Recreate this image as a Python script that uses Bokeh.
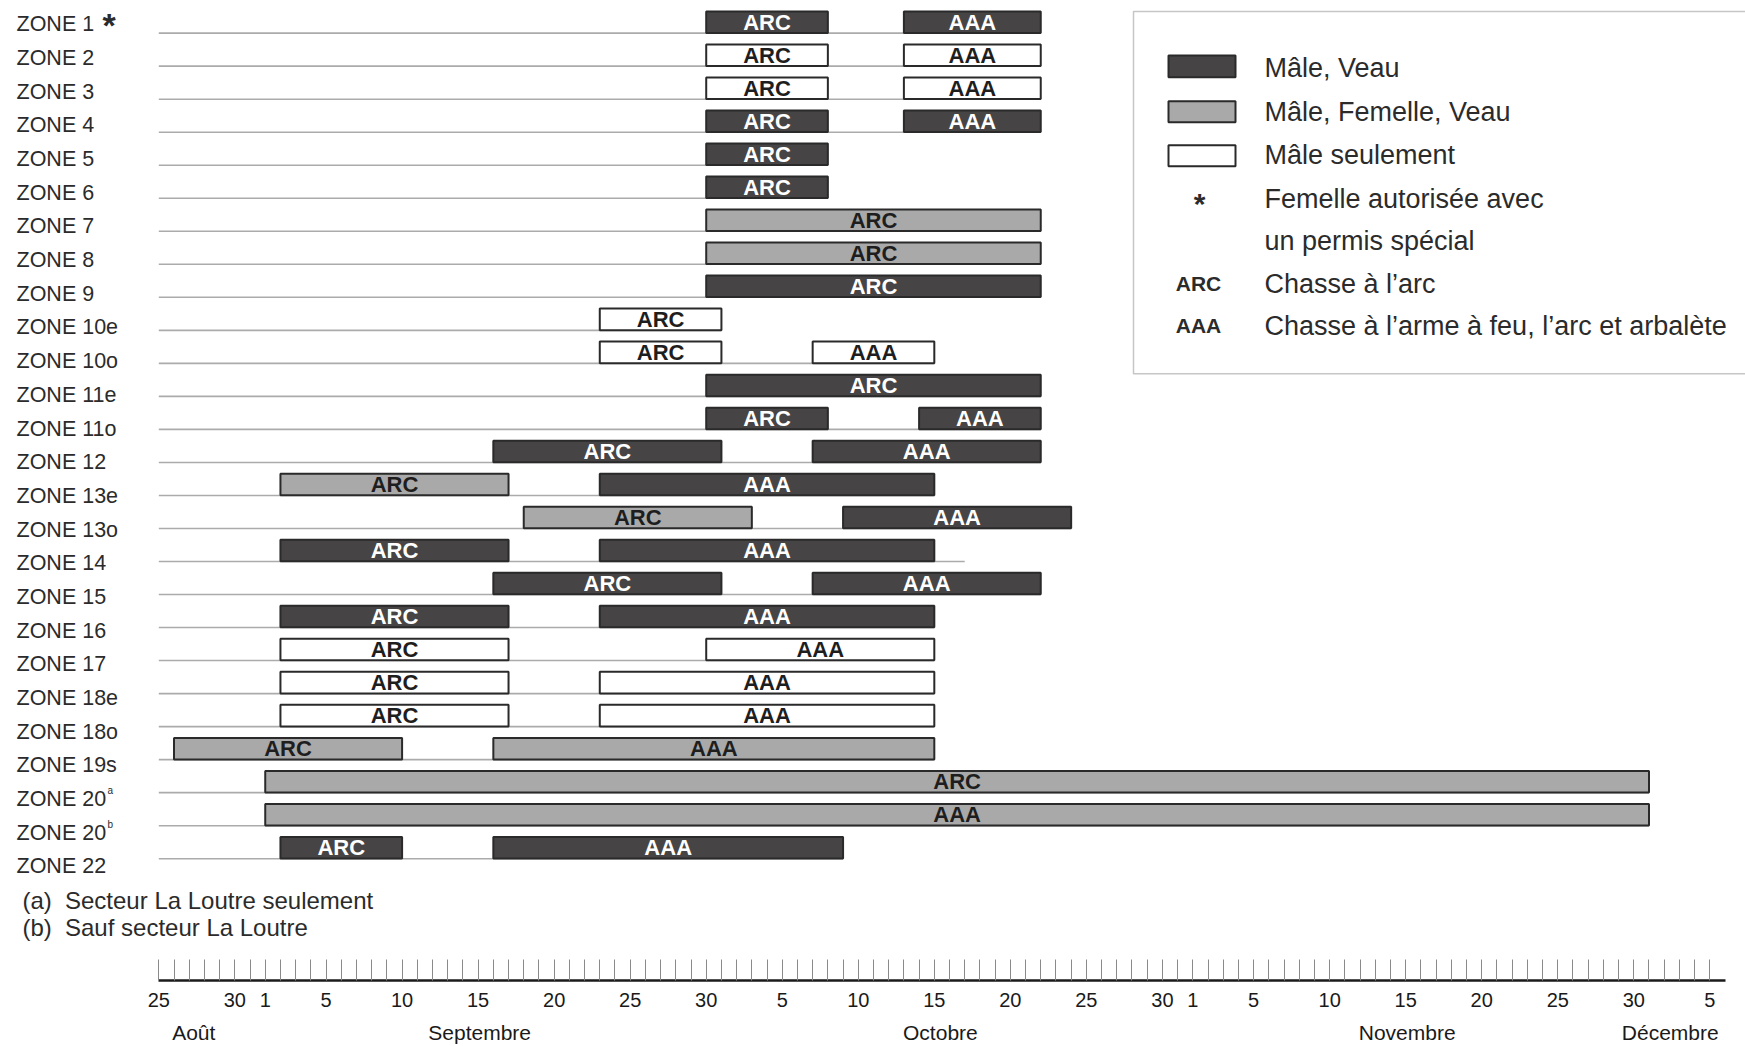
import datetime as dt
from bokeh.plotting import figure
from bokeh.models import Range1d, LinearAxis, FixedTicker, ColumnDataSource
from bokeh.core.properties import value
from bokeh.embed import file_html
from bokeh.resources import INLINE

# ---------------- data ----------------
YEAR = 2009
AXIS_ORIGIN = "08-25"

zone_keys = ["1", "2", "3", "4", "5", "6", "7", "8", "9", "10e", "10o", "11e", "11o", "12",
             "13e", "13o", "14", "15", "16", "17", "18e", "18o", "19s", "20a", "20b", "22"]
zone_labels = ["ZONE 1", "ZONE 2", "ZONE 3", "ZONE 4", "ZONE 5", "ZONE 6", "ZONE 7", "ZONE 8",
               "ZONE 9", "ZONE 10e", "ZONE 10o", "ZONE 11e", "ZONE 11o", "ZONE 12", "ZONE 13e",
               "ZONE 13o", "ZONE 14", "ZONE 15", "ZONE 16", "ZONE 17", "ZONE 18e", "ZONE 18o",
               "ZONE 19s", "ZONE 20", "ZONE 20", "ZONE 22"]

bar_zone = ["1", "1", "2", "2", "3", "3", "4", "4", "5", "6", "7", "8", "9",
            "10e", "10o", "10o", "11e", "11o", "11o", "12", "12",
            "13e", "13e", "13o", "13o", "14", "14", "15", "15", "16", "16",
            "17", "17", "18e", "18e", "18o", "18o", "19s", "19s", "20a", "20b", "22", "22"]
bar_hunt = ["ARC", "AAA", "ARC", "AAA", "ARC", "AAA", "ARC", "AAA", "ARC", "ARC", "ARC", "ARC", "ARC",
            "ARC", "ARC", "AAA", "ARC", "ARC", "AAA", "ARC", "AAA",
            "ARC", "AAA", "ARC", "AAA", "ARC", "AAA", "ARC", "AAA", "ARC", "AAA",
            "ARC", "AAA", "ARC", "AAA", "ARC", "AAA", "ARC", "AAA", "ARC", "AAA", "ARC", "AAA"]
bar_start = ["09-30", "10-13", "09-30", "10-13", "09-30", "10-13", "09-30", "10-13", "09-30", "09-30",
             "09-30", "09-30", "09-30",
             "09-23", "09-23", "10-07", "09-30", "09-30", "10-14", "09-16", "10-07",
             "09-02", "09-23", "09-18", "10-09", "09-02", "09-23", "09-16", "10-07", "09-02", "09-23",
             "09-02", "09-30", "09-02", "09-23", "09-02", "09-23", "08-26", "09-16",
             "09-01", "09-01", "09-02", "09-16"]
bar_end = ["10-08", "10-22", "10-08", "10-22", "10-08", "10-22", "10-08", "10-22", "10-08", "10-08",
           "10-22", "10-22", "10-22",
           "10-01", "10-01", "10-15", "10-22", "10-08", "10-22", "10-01", "10-22",
           "09-17", "10-15", "10-03", "10-24", "09-17", "10-15", "10-01", "10-22", "09-17", "10-15",
           "09-17", "10-15", "09-17", "10-15", "09-17", "10-15", "09-10", "10-15",
           "12-01", "12-01", "09-10", "10-09"]
bar_group = ["MV", "MV", "M", "M", "M", "M", "MV", "MV", "MV", "MV", "MFV", "MFV", "MV",
             "M", "M", "M", "MV", "MV", "MV", "MV", "MV",
             "MFV", "MV", "MFV", "MV", "MV", "MV", "MV", "MV", "MV", "MV",
             "M", "M", "M", "M", "M", "M", "MFV", "MFV", "MFV", "MFV", "MV", "MV"]

# row guide lines that run past the last season
line_end_override = {"14": "10-17"}

group_keys = ["MV", "MFV", "M"]
group_names = ["Mâle, Veau", "Mâle, Femelle, Veau", "Mâle seulement"]
group_fill = {"MV": "#474445", "MFV": "#a9a9a9", "M": "#ffffff"}
group_text = {"MV": "#ffffff", "MFV": "#1e1e1e", "M": "#1e1e1e"}

tick_dates = ["08-25", "08-30", "09-01", "09-05", "09-10", "09-15", "09-20", "09-25", "09-30",
              "10-05", "10-10", "10-15", "10-20", "10-25", "10-30", "11-01", "11-05", "11-10",
              "11-15", "11-20", "11-25", "11-30", "12-05"]
tick_text = ["25", "30", "1", "5", "10", "15", "20", "25", "30", "5", "10", "15", "20", "25", "30",
             "1", "5", "10", "15", "20", "25", "30", "5"]
months = ["Août", "Septembre", "Octobre", "Novembre", "Décembre"]
month_label_day = [2.3, 21.1, 51.4, 82.1, 99.4]

footnotes_key = ["(a)", "(b)"]
footnotes_text = ["Secteur La Loutre seulement", "Sauf secteur La Loutre"]

legend_marks = ["*", "ARC", "AAA"]
legend_texts = ["Mâle, Veau", "Mâle, Femelle, Veau", "Mâle seulement", "Femelle autorisée avec",
                "un permis spécial", "Chasse à l’arc", "Chasse à l’arme à feu, l’arc et arbalète"]


def day(md):
    o = dt.date(YEAR, int(AXIS_ORIGIN[:2]), int(AXIS_ORIGIN[3:]))
    return (dt.date(YEAR, int(md[:2]), int(md[3:])) - o).days


# ---------------- layout constants (screen px of the page) ----------------
FIG_W, FIG_H = 1745, 1046
PAD = 0
BOTTOM = 64
X0, PX = 158.3, 15.206        # page x of day 0, px per day
L0, DY = 32.7, 33.09          # page y of row-0 guide line, px per row
C0, DC = 24.0, 33.74          # page y of row-0 label centre, px per label row

ft, fb = PAD, PAD + FIG_H - BOTTOM
fl, fr = PAD, PAD + FIG_W

p = figure(width=FIG_W, height=FIG_H, output_backend="svg", toolbar_location=None,
           x_range=Range1d((fl - X0) / PX, (fr - X0) / PX),
           y_range=Range1d((fb - L0) / DY, (ft - L0) / DY),
           x_axis_type=None, y_axis_type=None,
           min_border=0, min_border_left=0, min_border_right=0, min_border_top=0,
           min_border_bottom=BOTTOM, outline_line_color=None,
           background_fill_color="white", border_fill_color="white")
p.extra_x_ranges = {"px": Range1d(fl, fr)}
p.extra_y_ranges = {"px": Range1d(fb, ft), "lab": Range1d((fb - C0) / DC, (ft - C0) / DC)}

FONT = value("Liberation Sans")
row_of = {k: i for i, k in enumerate(zone_keys)}

# guide lines
ends = {}
for z, e in zip(bar_zone, bar_end):
    ends[z] = max(ends.get(z, 0), day(e))
for z, e in line_end_override.items():
    ends[z] = day(e)
p.segment(x0=[0] * len(zone_keys), y0=list(range(len(zone_keys))),
          x1=[ends[z] for z in zone_keys], y1=list(range(len(zone_keys))),
          line_color="#ababab", line_width=1.6)

# bars
rows = [row_of[z] for z in bar_zone]
src = ColumnDataSource(dict(
    left=[day(s) for s in bar_start], right=[day(e) for e in bar_end],
    top=[r - 21.8 / DY for r in rows], bottom=[r - 0.2 / DY for r in rows],
    ymid=[r - 11.0 / DY for r in rows],
    xmid=[(day(s) + day(e)) / 2 for s, e in zip(bar_start, bar_end)],
    fill=[group_fill[g] for g in bar_group], tcol=[group_text[g] for g in bar_group],
    hunt=bar_hunt))
p.quad(left="left", right="right", top="top", bottom="bottom", source=src,
       fill_color="fill", line_color="#2a2a2a", line_width=2)
p.text(x="xmid", y="ymid", text="hunt", source=src, text_color="tcol",
       text_font=FONT, text_font_size="22px", text_font_style="bold",
       text_align="center", text_baseline="middle")

# zone labels
p.text(x=[16] * len(zone_labels), y=list(range(len(zone_labels))), text=zone_labels,
       x_range_name="px", y_range_name="lab", text_font=FONT, text_font_size="21.5px",
       text_color="#2b2b2b", text_align="left", text_baseline="middle")
p.text(x=[102], y=[25], text=["*"], x_range_name="px", y_range_name="px",
       text_font=FONT, text_font_size="34px", text_font_style="bold",
       text_color="#2b2b2b", text_baseline="alphabetic")
p.text(x=[107, 107], y=[C0 + DC * 23 - 8, C0 + DC * 24 - 8], text=["a", "b"],
       x_range_name="px", y_range_name="px", text_font=FONT, text_font_size="10px",
       text_color="#2b2b2b", text_baseline="middle")

# footnotes
p.text(x=[22, 22], y=[902, 929], text=footnotes_key, x_range_name="px", y_range_name="px",
       text_font=FONT, text_font_size="24px", text_color="#2b2b2b", text_baseline="middle")
p.text(x=[64.5, 64.5], y=[902, 929], text=footnotes_text, x_range_name="px", y_range_name="px",
       text_font=FONT, text_font_size="24px", text_color="#2b2b2b", text_baseline="middle")

# legend
p.quad(left=[1133], right=[1800], top=[11], bottom=[374], x_range_name="px", y_range_name="px",
       fill_color="white", line_color="#c6c6c6", line_width=1.5)
p.quad(left=[1168] * 3, right=[1235] * 3, top=[55, 101, 145], bottom=[77, 122, 166],
       x_range_name="px", y_range_name="px",
       fill_color=[group_fill[g] for g in group_keys], line_color="#2a2a2a", line_width=2)
p.text(x=[1264] * 7, y=[68, 112, 155, 199, 241, 284, 326],
       text=group_names + legend_texts[3:], x_range_name="px", y_range_name="px",
       text_font=FONT, text_font_size="27px", text_color="#2b2b2b", text_baseline="middle")
p.text(x=[1199], y=[203], text=[legend_marks[0]], x_range_name="px", y_range_name="px",
       text_font=FONT, text_font_size="30px", text_font_style="bold", text_color="#2b2b2b",
       text_align="center", text_baseline="alphabetic")
p.text(x=[1198, 1198], y=[284, 326], text=legend_marks[1:], x_range_name="px", y_range_name="px",
       text_font=FONT, text_font_size="21px", text_font_style="bold", text_color="#2b2b2b",
       text_align="center", text_baseline="middle")

# date axis
last_day = day("12-05")
overrides = {d: "" for d in range(0, last_day + 1)}
for d, t in zip(tick_dates, tick_text):
    overrides[day(d)] = t
ax = LinearAxis(ticker=FixedTicker(ticks=list(range(0, last_day + 1)), minor_ticks=[]),
                major_label_overrides=overrides, bounds=(0, last_day + 1),
                axis_line_color="#1a1a1a", axis_line_width=2.5,
                major_tick_in=21, major_tick_out=0, major_tick_line_color="#8a8a8a",
                major_tick_line_width=1, minor_tick_line_color=None, major_label_standoff=12,
                major_label_text_font="Liberation Sans", major_label_text_font_size="20px",
                major_label_text_color="#1a1a1a")
p.add_layout(ax, "below")
ax2 = LinearAxis(ticker=FixedTicker(ticks=month_label_day, minor_ticks=[]),
                 major_label_overrides=dict(zip(month_label_day, months)),
                 axis_line_color=None, major_tick_line_color=None, minor_tick_line_color=None,
                 major_tick_in=0, major_tick_out=0, major_label_standoff=11,
                 major_label_text_font="Liberation Sans", major_label_text_font_size="21px",
                 major_label_text_color="#1a1a1a")
p.add_layout(ax2, "below")

open("out.html", "w").write(file_html(p, INLINE))
